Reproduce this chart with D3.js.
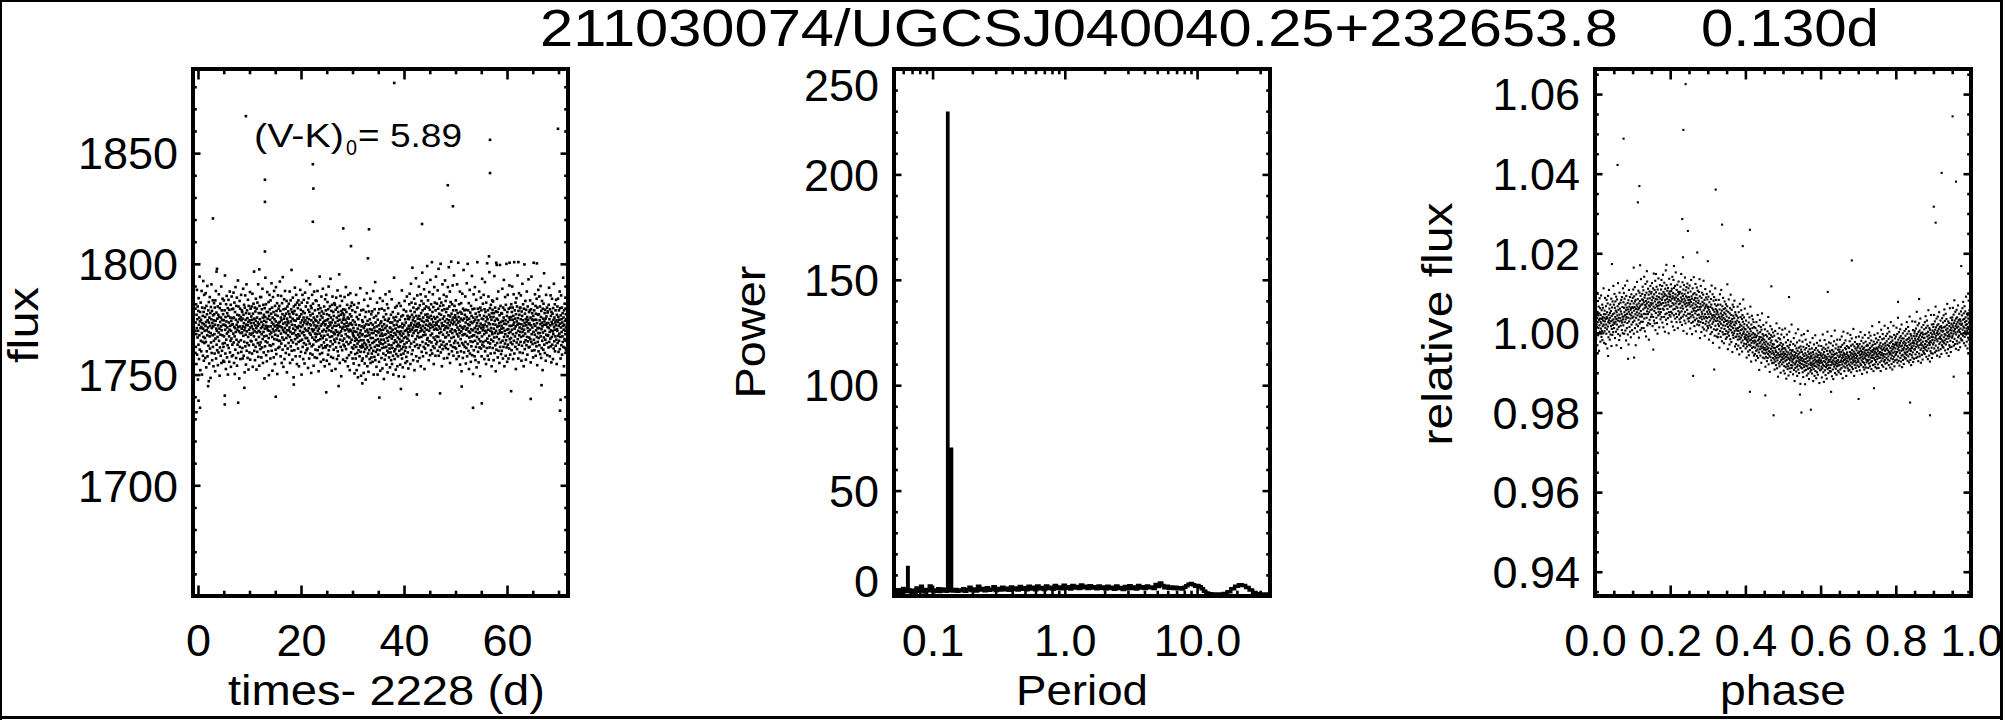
<!DOCTYPE html>
<html><head><meta charset="utf-8">
<script src="https://cdn.jsdelivr.net/npm/d3@7"></script>
<style>
body{margin:0;background:#fff;}
svg{display:block;}
text{font-family:"Liberation Sans",Arial,Helvetica,sans-serif;fill:#000;}
</style>
</head><body>
<script>
// ---------------- DATA ----------------
const titleText = "211030074/UGCSJ040040.25+232653.8";
const periodText = "0.130d";
const colourIndex = ["(V-K)", "0", "= 5.89"];

// Panel 1: light curve (uniform cadence), flux stored as code = (flux-1683)*4
const lcTimeStart = -0.45, lcCadence = 0.036;
const lcFluxCode = [
362,318,395,341,287,376,352,421,304,368,335,391,259,347,383,322,406,358,296,371,339,445,313,364,381,276,352,398,329,367,310,354,419,343,268,389,361,327,374,302,351,437,336,381,293,359,412,325,347,388,
334,372,298,356,415,327,363,281,392,348,310,377,339,428,301,366,353,247,384,320,345,399,362,288,371,337,408,315,356,379,262,343,390,326,368,431,307,352,383,294,361,339,402,318,375,355,283,366,329,397,
377,341,306,389,358,274,402,333,365,419,297,351,380,322,347,459,312,369,336,391,285,357,376,308,344,413,329,372,351,266,388,317,363,396,340,302,371,355,427,289,348,384,311,367,339,405,324,358,377,293,
318,366,402,337,291,358,384,325,447,349,306,372,356,278,395,331,364,410,342,299,379,353,321,388,268,345,374,403,316,362,337,291,385,349,418,308,356,371,329,394,282,347,365,333,409,301,358,386,322,370,
359,303,387,342,416,326,371,289,354,398,337,269,381,352,313,426,345,367,298,392,331,358,407,284,376,349,322,363,438,307,354,391,327,346,375,261,368,401,318,355,387,296,343,372,330,412,309,366,351,384,
344,381,316,369,297,355,423,338,376,302,361,394,327,348,272,389,353,411,319,367,340,286,379,358,431,311,346,384,325,370,298,357,403,336,363,277,392,321,349,378,308,366,342,417,295,353,387,329,361,340,
373,328,391,355,306,367,414,343,282,378,350,322,396,361,337,454,311,369,346,389,294,357,382,318,365,405,331,352,277,387,344,371,309,398,356,325,362,431,300,347,379,336,359,284,392,321,368,345,408,314,
326,379,352,408,299,363,341,386,317,354,423,332,371,289,358,394,345,308,376,337,365,261,388,351,319,372,443,328,356,395,303,363,338,381,292,352,417,326,369,348,381,310,355,399,334,267,374,347,412,321,
386,341,367,297,402,355,320,378,344,433,311,362,389,336,275,371,350,408,323,359,381,299,346,419,332,368,355,287,392,340,376,313,364,426,348,305,383,357,331,397,269,352,374,338,411,316,361,387,329,356,
347,392,318,363,436,329,355,383,301,371,342,410,324,366,289,353,397,335,377,313,444,348,360,282,386,331,369,404,345,296,374,352,419,320,362,387,307,343,378,334,401,357,272,369,348,391,315,364,339,382,
361,325,396,348,304,377,353,418,336,289,372,345,402,319,364,386,330,457,311,358,381,342,295,369,407,326,351,378,263,391,343,366,312,383,357,425,332,348,394,301,365,339,412,323,376,354,287,398,335,369,
352,388,315,341,402,327,369,283,356,394,338,373,301,347,421,329,362,385,309,354,377,268,398,343,331,366,412,318,357,382,296,345,371,403,325,362,339,288,379,351,416,307,366,334,391,322,348,437,312,359,
371,334,398,315,362,347,280,385,329,406,352,368,297,381,343,324,359,431,306,375,340,392,357,271,366,388,319,350,412,335,304,378,346,396,322,362,284,371,349,418,331,357,299,384,342,367,313,402,336,353,
328,365,401,341,298,373,356,419,312,347,386,330,362,274,393,351,318,379,342,445,305,367,332,388,356,291,374,338,409,321,359,382,307,346,371,334,423,316,362,295,378,349,326,391,338,365,283,357,404,319,
359,317,384,346,412,331,366,293,377,352,321,399,340,368,304,386,355,427,312,348,375,287,362,336,391,319,357,441,328,371,300,346,383,362,275,394,337,352,409,323,367,298,381,344,313,374,356,331,397,342,
341,394,327,362,278,385,348,317,407,356,333,371,296,389,345,420,310,365,339,381,302,358,374,325,449,343,367,289,392,331,354,410,318,376,346,265,383,338,362,401,312,351,379,329,367,295,386,354,322,371,
376,333,359,408,319,348,385,292,367,341,426,314,355,381,327,362,298,394,350,337,371,283,356,412,323,369,346,303,388,335,359,276,377,349,415,326,361,392,308,347,373,331,398,317,358,384,297,343,366,339,
315,352,288,337,394,321,346,270,363,329,305,381,334,297,358,412,318,345,276,372,331,307,389,324,351,263,340,368,312,397,328,285,357,336,301,376,343,319,424,309,348,330,266,384,317,355,339,293,366,322,
341,297,363,318,385,330,271,352,309,403,325,356,288,337,372,314,346,259,381,322,359,301,338,415,317,349,283,365,330,392,306,344,273,358,327,382,312,339,296,368,321,350,405,289,334,361,316,377,299,343,
306,349,382,325,291,358,334,419,311,343,268,371,327,353,300,386,318,347,435,294,362,330,309,374,339,282,355,321,398,313,346,268,367,332,304,379,344,320,357,291,386,327,350,312,406,338,275,361,324,348,
331,364,298,342,387,316,355,279,338,401,323,349,306,372,331,260,359,317,384,340,295,367,326,352,413,303,341,377,318,286,356,334,395,311,347,272,365,329,388,308,344,322,369,299,336,418,315,353,281,362,
352,308,339,376,294,345,321,404,333,287,362,316,349,381,302,337,268,371,325,357,443,310,343,296,366,330,389,314,351,277,340,372,305,327,358,392,319,346,283,364,335,301,378,322,354,265,345,397,311,332,
319,367,341,286,355,327,392,304,346,373,314,338,420,297,360,329,353,281,375,318,342,306,385,334,264,357,323,401,347,311,368,289,336,362,317,382,300,348,326,409,292,351,333,374,308,344,369,279,339,356,
368,329,395,351,414,318,372,346,287,383,357,432,324,361,398,305,349,376,338,461,312,366,353,294,389,343,371,327,405,358,276,381,347,319,364,396,332,355,442,301,374,348,386,322,359,411,337,292,369,354,
343,388,316,361,427,335,374,298,357,393,321,368,346,413,283,352,379,336,401,309,365,348,452,327,384,356,301,371,339,396,318,363,422,345,278,387,352,315,376,340,409,324,358,391,307,366,349,434,331,372,
377,334,365,402,321,356,389,294,371,347,417,328,360,385,303,352,439,339,374,312,395,358,326,368,471,342,306,381,354,413,319,363,390,335,287,372,349,426,316,357,398,331,369,302,384,351,445,323,362,337,
358,396,327,372,349,420,311,364,387,336,459,302,355,378,343,405,318,367,392,329,351,468,308,376,345,398,322,361,283,384,356,431,314,369,340,393,327,357,412,297,373,349,386,320,364,438,335,352,401,316,
336,381,355,409,323,368,344,298,387,361,426,314,352,375,339,462,305,366,391,328,357,418,289,373,346,399,321,362,472,334,378,350,310,395,343,367,429,318,359,384,302,371,336,447,325,363,392,348,317,375,
329,371,346,402,315,358,384,296,367,341,431,308,353,379,325,362,470,337,372,301,349,395,320,364,343,418,286,356,381,332,369,310,397,346,274,378,353,325,414,339,366,298,387,351,322,457,341,369,308,384,
355,318,376,341,409,327,362,288,385,349,316,372,433,338,301,367,352,468,323,359,384,311,346,397,278,369,335,357,421,306,344,380,328,363,291,392,350,319,374,337,446,303,361,386,327,348,269,371,339,413,
312,364,339,387,301,352,426,329,367,294,378,345,318,403,356,281,372,336,361,471,324,350,387,309,343,366,290,381,332,418,355,317,375,344,265,389,328,360,407,315,352,384,301,369,337,441,322,357,348,396,
368,327,353,412,319,374,341,296,386,358,435,310,347,381,329,364,287,398,344,372,316,355,469,333,368,302,384,349,326,409,361,295,376,338,453,317,359,388,324,347,372,306,394,352,331,367,283,379,345,402,
341,385,316,359,400,328,372,294,351,379,335,446,307,365,343,389,321,358,274,382,347,470,313,369,336,405,325,354,381,299,367,342,418,311,356,387,332,361,289,375,348,466,318,344,392,326,363,305,379,351,
356,311,378,344,423,329,365,297,389,352,318,371,439,336,360,283,385,347,324,408,341,366,302,394,330,359,468,317,374,349,291,381,337,412,322,363,350,297,387,343,371,315,429,356,332,367,304,389,345,326,
372,334,395,356,312,381,349,427,323,367,389,341,296,374,358,413,329,362,471,306,351,384,337,369,318,398,355,278,377,343,406,326,364,391,314,358,447,332,370,347,297,383,360,322,415,339,376,353,308,388,
345,389,327,368,411,336,359,293,382,351,320,374,432,345,307,366,395,338,356,283,387,349,326,467,361,314,378,342,401,330,368,295,385,357,321,363,418,336,372,304,352,391,328,367,346,440,317,359,381,335,
361,318,384,349,402,332,371,290,357,386,327,445,341,368,311,379,353,323,396,366,299,374,345,470,331,359,384,312,367,340,413,325,356,392,302,378,348,367,319,405,336,361,285,389,352,327,376,343,421,310,
334,377,352,409,321,366,343,391,305,359,428,337,372,298,383,350,316,362,401,329,355,276,387,344,369,313,396,358,335,451,322,364,379,307,347,385,331,369,293,358,412,340,373,325,361,389,303,354,380,338,
382,339,361,317,394,352,425,327,368,345,301,386,357,333,411,319,374,348,290,381,363,336,405,322,359,378,346,296,388,341,367,315,432,354,328,371,349,395,310,362,337,384,320,357,403,331,366,287,376,350,
347,391,325,363,405,338,372,309,356,384,329,367,342,418,314,360,388,336,297,375,353,411,321,368,345,389,304,362,337,379,327,356,443,318,371,349,283,384,358,332,396,316,365,341,407,329,377,353,312,368
];
// isolated points [time-2228, flux]
const lcOutliers = [[38.1,1881.7],[9.3,1866.7],[69.9,1861],[56.7,1856],[22.3,1845],[13.0,1838],[22.4,1834],[48.5,1835.5],[56.7,1841],[13.0,1828],[49.5,1826],[2.9,1820.5],[22.3,1819],[43.5,1818],[28.2,1816],[33.2,1815.6],[29.7,1808],[13.0,1805.6],[33.0,1802.5],[56.5,1803.4],[60.5,1800.5],[62.2,1800.8],[65.8,1800.2],[58.0,1799.5],[44.5,1799],[11.9,1797.5],[3.6,1796.5],[0.4,1735],[-0.3,1733],[5.2,1740.5],[5.2,1736.5],[7.8,1737.3],[15.1,1740],[35.2,1739.6],[42.5,1741],[53.4,1735],[55.1,1737],[64.6,1739],[70.3,1733.7],[70.4,1738.6],[0.1,1738.2],[47.0,1741.5],[24.9,1742],[60.8,1742.5],[9.0,1744],[18.6,1745.5],[27.3,1744.8],[31.9,1746],[39.4,1743.5],[51.2,1744.6],[66.7,1745.2],[2.1,1747]];
const lcXTicks = [0, 20, 40, 60];
const lcYTicks = [1700, 1750, 1800, 1850];

// Panel 2: periodogram [period (d), power]
const pgPoints = [[0.0513,1.5],[0.0525,2.5],[0.0538,1.8],[0.0550,3.0],[0.0562,2.2],[0.0575,1.6],[0.0588,2.8],[0.0600,3.5],[0.0612,2.0],[0.0625,2.6],[0.0638,3.2],[0.0646,2.4],[0.0651,13.5],[0.0656,2.1],[0.0665,3.0],[0.0680,2.3],[0.0695,1.8],[0.0710,2.7],[0.0725,2.0],[0.0740,1.5],[0.0760,3.8],[0.0780,2.2],[0.0800,2.9],[0.0825,4.6],[0.0850,2.4],[0.0875,1.9],[0.0900,3.1],[0.0930,2.5],[0.0960,4.8],[0.0990,2.6],[0.1020,2.0],[0.1050,2.9],[0.1080,2.3],[0.1110,3.4],[0.1140,2.1],[0.1170,2.7],[0.1200,3.3],[0.1230,2.4],[0.1260,2.8],[0.1285,2.2],[0.1298,3.0],[0.1303,229],[0.1308,3.0],[0.1320,2.5],[0.1335,3.0],[0.1350,2.6],[0.1365,3.4],[0.1380,2.8],[0.1386,3.2],[0.1390,69.6],[0.1394,3.0],[0.1405,2.6],[0.1420,2.4],
[0.145,2.4],[0.150,3.1],[0.155,2.2],[0.160,2.9],[0.166,2.5],[0.172,3.4],[0.178,2.3],[0.185,3.0],[0.192,4.2],[0.199,2.6],[0.207,3.3],[0.215,2.4],[0.223,4.6],[0.232,2.8],[0.241,3.5],[0.250,2.5],[0.260,3.9],[0.270,2.7],[0.281,3.2],[0.292,4.4],[0.303,2.6],[0.315,3.6],[0.327,2.9],[0.340,4.1],[0.353,3.0],[0.367,3.7],[0.381,2.7],[0.396,4.3],[0.411,3.1],[0.427,3.8],[0.444,2.9],[0.461,4.5],[0.479,3.2],[0.498,3.9],[0.517,3.0],[0.537,4.6],[0.558,3.3],[0.580,4.1],[0.602,3.0],[0.626,4.7],[0.650,3.4],[0.675,4.0],[0.702,3.1],[0.729,4.8],[0.757,3.5],[0.787,4.2],[0.817,3.2],[0.849,5.0],[0.882,3.6],[0.916,4.3],[0.952,3.4],[0.989,5.1],[1.03,3.7],[1.07,4.4],[1.11,3.3],[1.15,5.0],[1.20,3.8],[1.24,4.5],[1.29,3.5],[1.34,5.2],[1.39,3.9],[1.45,4.6],[1.50,3.6],[1.56,4.9],[1.62,3.8],[1.69,4.4],[1.75,3.4],[1.82,4.8],[1.89,3.7],[1.96,4.3],[2.04,3.3],[2.12,4.6],[2.20,3.6],[2.29,4.2],[2.38,3.2],[2.47,4.7],[2.57,3.5],[2.67,4.0],[2.77,3.1],[2.88,4.5],[2.99,3.4],[3.11,4.9],[3.23,3.6],[3.36,4.3],[3.49,3.3],[3.62,5.0],[3.76,3.8],[3.91,4.4],[4.06,3.5],[4.22,4.8],[4.38,3.9],[4.55,4.3],[4.73,3.6],[4.91,5.4],[5.10,4.5],[5.30,6.2],[5.51,5.0],[5.72,3.9],[5.95,4.6],[6.18,3.7],[6.42,4.3],[6.67,3.5],[6.93,4.1],[7.20,3.4],[7.48,3.9],[7.77,3.3],[8.07,4.2],[8.38,4.9],[8.71,5.6],[9.05,5.9],[9.40,5.3],[9.77,4.6],[10.15,5.0],[10.55,4.4],[10.96,3.4],[11.4,2.2],[11.9,1.4],[12.5,1.1],[13.3,1.0],[14.2,1.0],[15.2,1.0],[16.3,1.2],[17.4,2.0],[18.6,3.4],[19.9,4.6],[21.2,5.3],[22.6,5.0],[24.0,4.0],[25.5,2.8],[27.1,1.7],[28.8,1.1],[30.6,0.9],[32.5,0.9],[34.5,1.0],[35.5,1.0]];
const pgXTicks = [0.1, 1, 10];
const pgYTicks = [0, 50, 100, 150, 200, 250];

// Panel 3: folded light curve sorted by phase; relative flux stored as code = (f-0.95)*10000
const phCode = [
559,498,541,573,507,532,486,548,521,601,515,538,469,553,527,580,494,544,512,566,533,455,549,519,587,503,536,562,478,528,545,511,594,524,490,557,535,505,571,482,540,517,563,531,499,612,521,547,475,538,
504,556,529,588,513,547,472,535,567,521,498,583,540,509,552,461,537,574,516,593,527,489,545,532,608,503,561,524,483,550,538,571,496,529,555,517,586,467,543,510,564,531,495,579,520,547,502,618,534,526,
571,512,549,598,523,563,487,540,579,528,556,503,591,535,469,552,521,584,544,509,567,531,625,497,558,538,515,573,482,546,601,529,561,493,537,576,518,554,462,583,531,548,507,590,526,565,541,499,612,534,
519,577,541,600,563,498,552,586,527,619,545,506,571,534,557,481,593,540,564,512,548,631,525,575,496,559,538,582,471,553,608,529,566,515,547,590,503,573,536,558,489,562,544,597,521,580,551,507,565,538,
588,527,563,609,541,574,498,556,592,531,565,615,512,579,547,583,469,560,538,597,521,571,552,628,503,566,544,585,517,559,606,533,574,488,562,549,601,524,580,541,567,507,593,555,635,528,571,546,512,584,
541,598,572,616,528,583,559,607,512,577,548,641,536,589,563,504,595,570,623,547,580,491,566,601,538,574,554,629,519,586,561,547,611,525,578,596,483,569,552,604,533,587,566,522,618,558,575,540,599,571,
603,546,582,625,559,591,517,574,612,540,588,566,649,531,597,555,608,524,579,563,631,507,585,550,602,571,538,616,592,525,567,584,498,609,561,576,544,637,553,590,569,514,599,578,547,620,560,586,534,574,
552,609,571,633,540,597,583,618,526,589,561,646,575,514,603,558,592,540,626,567,598,503,582,611,547,576,657,533,594,569,620,549,585,522,606,560,591,537,613,578,571,499,599,552,636,583,545,604,566,590,
596,541,580,622,553,605,567,528,611,586,549,641,575,592,516,600,559,633,571,544,613,588,507,583,560,618,536,597,574,652,548,589,566,527,608,579,540,621,563,594,512,585,603,555,629,572,546,598,581,534,
551,603,574,527,616,563,589,538,648,579,554,599,520,584,568,627,541,593,561,609,505,577,546,620,586,531,598,572,639,553,581,524,607,566,592,543,615,575,498,589,558,624,569,536,601,548,583,612,529,576,
590,537,572,619,548,583,511,566,604,541,578,633,525,592,553,586,497,569,545,612,561,528,597,574,539,640,556,583,517,600,563,532,588,549,623,571,504,579,555,596,536,614,566,521,587,545,606,558,575,530,
528,581,546,603,519,565,538,592,487,559,573,527,618,541,566,502,588,553,534,601,548,578,514,569,525,596,541,631,557,509,574,536,583,493,562,547,610,522,567,540,589,529,571,506,598,553,537,584,517,563,
566,512,547,591,526,558,483,540,577,519,553,604,531,565,497,548,585,514,571,536,619,502,544,562,523,597,539,475,558,528,581,545,509,590,534,553,493,572,541,612,518,560,530,583,507,547,568,491,556,537,
509,552,531,489,571,522,546,498,583,517,540,463,559,528,597,505,536,571,490,549,523,608,512,541,556,479,533,567,502,545,519,588,496,538,560,474,527,551,510,579,534,497,562,518,547,485,572,530,505,556,
541,489,522,567,498,531,459,515,553,502,526,584,493,538,509,471,549,519,562,484,530,596,507,524,545,477,516,558,501,535,452,528,571,494,512,543,487,565,521,499,537,581,505,519,466,552,528,490,546,511,
472,524,491,543,506,459,531,497,566,483,512,538,468,505,552,491,527,446,515,484,573,499,521,462,540,507,488,557,476,518,494,535,453,509,545,481,528,498,584,467,514,503,539,473,522,490,561,485,510,496,
509,461,488,531,472,495,438,482,519,466,503,548,477,491,453,514,486,526,444,498,470,539,481,457,510,492,566,468,504,483,428,521,475,496,543,462,487,512,451,534,479,500,465,527,489,443,515,474,496,481,
447,496,463,512,478,431,489,455,527,469,493,442,506,472,458,545,481,437,499,466,518,451,484,407,490,474,532,459,502,443,478,515,466,489,425,508,461,482,549,453,471,497,438,486,464,520,449,493,476,458,
483,436,462,509,448,471,415,457,495,440,478,526,451,466,429,491,459,504,437,473,447,540,462,421,485,454,498,443,469,402,487,452,517,439,476,460,494,431,481,448,509,466,424,490,455,472,437,501,463,450,
425,471,446,493,433,408,462,441,505,428,456,481,419,452,437,524,444,465,411,478,431,498,449,390,467,438,487,423,459,445,512,416,470,441,484,427,453,400,475,446,432,496,458,421,466,439,508,447,434,461,
471,426,452,405,443,489,417,436,462,398,447,511,429,458,414,476,440,385,453,432,496,421,445,467,409,438,482,416,451,393,463,435,424,503,446,411,470,431,457,402,440,478,419,449,436,521,412,455,428,444,
418,457,433,396,472,425,441,487,407,436,452,379,444,421,468,412,438,499,426,449,403,461,430,415,476,392,442,455,420,437,509,408,447,428,463,399,433,481,417,451,424,440,372,466,431,413,458,436,494,422,
452,411,437,478,401,429,446,389,465,420,433,497,414,442,405,458,427,371,449,418,483,435,407,462,424,444,393,471,416,438,429,505,410,453,398,440,421,467,384,447,431,459,412,436,476,403,425,450,419,441,
407,443,425,461,398,436,414,487,420,452,379,430,446,409,471,423,438,392,457,417,433,494,404,441,426,462,386,448,415,430,475,401,439,421,456,395,444,427,411,468,432,418,452,374,437,424,481,406,445,429,
449,408,431,467,415,442,388,425,458,411,437,496,420,446,401,463,429,377,452,417,438,482,406,443,427,460,394,433,414,471,422,440,385,455,418,436,503,409,447,426,463,399,432,419,476,412,441,428,455,404,
412,451,433,474,403,438,419,492,427,446,391,457,424,440,408,468,431,384,453,421,445,479,415,436,428,506,399,447,420,461,410,437,425,471,395,449,430,416,483,423,443,405,458,432,418,465,401,439,426,452,
458,419,441,483,408,446,427,397,465,431,452,412,491,437,421,470,444,386,456,428,439,503,416,449,432,474,404,445,423,462,434,413,481,440,425,459,392,447,430,467,418,451,436,499,411,443,428,464,405,438,
421,462,440,407,479,433,452,418,495,444,426,468,401,449,435,486,414,457,439,423,471,409,446,431,510,427,453,441,392,466,436,419,477,448,430,461,412,445,489,425,437,456,404,472,442,418,463,433,450,428,
467,428,449,491,415,453,436,472,406,444,461,423,502,438,455,419,480,447,431,466,397,452,441,488,427,459,435,414,474,446,425,463,408,451,437,495,420,456,442,478,413,448,433,467,426,457,401,444,470,432,
429,468,451,412,487,440,458,423,501,445,433,474,416,462,449,493,426,455,438,481,409,466,443,429,517,452,437,470,419,457,444,404,478,436,461,448,495,421,453,432,472,414,459,440,486,427,450,463,411,445,
476,434,460,499,421,455,441,482,412,464,448,527,437,469,426,490,452,438,475,404,461,445,508,430,466,450,419,484,457,436,497,443,471,415,459,447,486,428,463,440,518,432,455,474,423,468,446,492,410,458,
437,479,461,425,498,448,470,433,512,456,441,485,419,467,452,503,430,474,446,491,413,462,449,527,436,477,455,422,489,443,466,408,481,459,434,472,450,518,427,464,440,495,416,470,453,486,431,461,444,476,
491,447,472,513,433,468,452,497,425,476,459,538,441,483,464,430,502,456,470,418,488,449,475,509,437,466,492,428,480,455,521,443,468,414,486,460,445,499,432,474,457,486,422,463,478,440,505,451,469,436,
448,493,474,436,510,459,482,445,527,467,452,498,430,485,463,515,441,477,456,504,426,488,470,541,447,481,460,432,497,473,455,419,493,466,444,486,462,529,438,475,451,507,427,480,468,492,435,474,458,499,
505,459,486,528,446,481,465,511,437,492,472,553,452,497,477,440,519,468,484,429,502,463,489,524,448,480,506,441,494,470,536,457,483,425,499,474,461,514,445,490,469,501,433,478,496,454,520,466,487,450,
462,509,488,447,527,472,497,458,542,480,465,513,440,499,478,531,455,491,469,518,434,503,484,557,461,494,475,443,512,487,470,428,508,479,454,500,476,545,449,490,463,521,437,496,482,506,448,489,471,515,
522,475,502,545,461,497,481,529,451,508,488,566,468,514,493,455,536,484,500,443,519,479,505,541,463,496,522,456,510,486,552,472,499,440,515,490,476,531,459,506,485,517,447,494,512,469,537,481,503,465,
478,526,505,463,544,489,514,474,559,497,481,530,456,516,494,548,471,508,485,535,449,520,501,573,477,511,492,459,529,503,486,442,525,496,469,517,491,562,464,507,480,538,452,513,499,523,465,506,488,532,
539,492,519,563,477,514,498,546,468,525,505,582,485,531,510,472,553,501,517,460,536,496,522,558,480,513,539,473,527,503,569,489,516,457,532,507,493,548,476,523,502,534,464,511,529,486,554,498,520,482,
497,544,523,481,562,508,533,493,578,516,500,549,474,535,513,567,490,527,504,554,468,539,520,591,496,530,511,478,548,522,505,461,544,515,488,536,510,581,483,526,499,557,471,532,518,541,484,525,507,551
];
// isolated points [phase, relative flux]
const phOutliers = [[0.241,1.0625],[0.951,1.0544],[0.235,1.0510],[0.076,1.0488],[0.060,1.0422],[0.922,1.0402],[0.960,1.0380],[0.118,1.0369],[0.321,1.0360],[0.114,1.0328],[0.901,1.0317],[0.232,1.0286],[0.906,1.0277],[0.338,1.0272],[0.247,1.0256],[0.412,1.0259],[0.393,1.0218],[0.272,1.0202],[0.683,1.0182],[0.974,1.0168],[0.619,1.0103],[0.469,1.0117],[0.516,1.0090],[0.261,0.9892],[0.412,0.9852],[0.475,0.9793],[0.549,0.9800],[0.891,0.9793],[0.574,0.9807],[0.453,0.9843],[0.838,0.9825],[0.701,0.9834],[0.954,0.9890],[0.317,0.9908],[0.045,1.0173],[0.103,1.0164],[0.120,1.0170],[0.190,1.0171],[0.210,1.0168],[0.234,1.0190],[0.300,1.0180],[0.088,0.9935],[0.104,0.9938],[0.138,1.0155],[0.162,1.0148],[0.278,1.0135],[0.352,1.0122],[0.545,0.9845],[0.628,0.9852],[0.742,0.9861],[0.806,1.0078],[0.862,1.0085],[0.035,0.9942],[0.155,0.9958]];
const phXTicks = [0, 0.2, 0.4, 0.6, 0.8, 1.0];
const phYTicks = [0.94, 0.96, 0.98, 1.00, 1.02, 1.04, 1.06];

// ---------------- DRAWING ----------------
const W = 2005, H = 720;
const TOP = 69, BOT = 596;
const FONT = '"Liberation Sans", Arial, Helvetica, sans-serif';
const svg = d3.select("body").append("svg").attr("width", W).attr("height", H);
svg.append("rect").attr("width", W).attr("height", H).attr("fill", "#fff");
const defs = svg.append("defs");
defs.append("clipPath").attr("id", "page").append("rect").attr("x", 0).attr("y", 0).attr("width", 2000).attr("height", H);
const root = svg.append("g").attr("clip-path", "url(#page)");

const x1 = d3.scaleLinear([-0.97, 71.84], [193, 568]);
const y1 = d3.scaleLinear([1650, 1888], [BOT, TOP]);
const x2 = d3.scaleLog([0.0511, 35.6], [894, 1270]);
const y2 = d3.scaleLinear([0, 250], [BOT, TOP]);
const x3 = d3.scaleLinear([0, 1], [1595, 1971]);
const y3 = d3.scaleLinear([0.9339, 1.0663], [BOT, TOP]);

function axes(x, y, o) {
  const g = root.append("g");
  const [xa, xb] = x.range();
  const mk = (axis, tr, vals, len, fmt) => {
    const a = g.append("g").attr("transform", tr)
      .call(axis.tickValues(vals).tickSizeInner(-len).tickSizeOuter(0).tickPadding(0).tickFormat(fmt || (() => "")));
    a.attr("font-size", null).attr("font-family", null);
    a.select(".domain").remove();
    a.selectAll(".tick line").attr("stroke", "#000").attr("stroke-width", 2.6);
    return a;
  };
  const bx = mk(d3.axisBottom(x), `translate(0,${BOT})`, o.xMajor, 10.5, o.xFmt);
  bx.selectAll("text").attr("y", 60).attr("dy", null).attr("font-size", 45).attr("font-family", FONT).attr("fill", "#000");
  mk(d3.axisBottom(x), `translate(0,${BOT})`, o.xMinor, 5.3);
  mk(d3.axisTop(x), `translate(0,${TOP})`, o.xMajor, 10.5);
  mk(d3.axisTop(x), `translate(0,${TOP})`, o.xMinor, 5.3);
  const ly = mk(d3.axisLeft(y), `translate(${xa},0)`, o.yMajor, 7.5, o.yFmt);
  ly.selectAll("text").attr("x", -15).attr("dy", o.yDy || "0.35em").attr("font-size", 45).attr("font-family", FONT).attr("fill", "#000");
  mk(d3.axisLeft(y), `translate(${xa},0)`, o.yMinor, 3.8);
  mk(d3.axisRight(y), `translate(${xb},0)`, o.yMajor, 7.5);
  mk(d3.axisRight(y), `translate(${xb},0)`, o.yMinor, 3.8);
  g.append("rect").attr("x", xa).attr("y", TOP).attr("width", xb - xa).attr("height", BOT - TOP)
    .attr("fill", "none").attr("stroke", "#000").attr("stroke-width", 4);
}

function clipFor(id, x) {
  const [a, b] = x.range();
  defs.append("clipPath").attr("id", id).append("rect").attr("x", a).attr("y", TOP).attr("width", b - a).attr("height", BOT - TOP);
  return `url(#${id})`;
}

function dots(data, x, y, clip, size) {
  root.append("g").attr("clip-path", clip).selectAll("rect").data(data).join("rect")
    .attr("x", d => x(d[0]) - size / 2).attr("y", d => y(d[1]) - size / 2)
    .attr("width", size).attr("height", size).attr("fill", "#000");
}

// ----- Panel 1 -----
const lcPoints = lcFluxCode.map((c, i) => [lcTimeStart + i * lcCadence, 1683 + c / 4]).concat(lcOutliers);
dots(lcPoints, x1, y1, clipFor("c1", x1), 2.6);
axes(x1, y1, {
  xMajor: lcXTicks, xMinor: d3.range(0, 72, 5).filter(v => v % 20), xFmt: d3.format("d"),
  yMajor: lcYTicks, yMinor: d3.range(1650, 1890, 10).filter(v => v % 50), yFmt: d3.format("d")
});

// ----- Panel 2 -----
const pgMinor = [];
[0.01, 0.1, 1, 10].forEach(dec => { for (let k = 2; k <= 9; k++) { const v = k * dec; if (v > 0.0511 && v < 35.6) pgMinor.push(v); } });
root.append("path").datum(pgPoints).attr("clip-path", clipFor("c2", x2))
  .attr("d", d3.line().x(d => x2(d[0])).y(d => y2(d[1])).curve(d3.curveStep))
  .attr("fill", "none").attr("stroke", "#000").attr("stroke-width", 3.5).attr("stroke-linejoin", "miter");
axes(x2, y2, {
  xMajor: pgXTicks, xMinor: pgMinor, xFmt: d3.format(".1f"),
  yMajor: pgYTicks, yMinor: d3.range(0, 251, 10).filter(v => v % 50), yFmt: d3.format("d"),
  yDy: d => d === 250 ? "0.71em" : d === 0 ? "0em" : "0.35em"
});

// ----- Panel 3 -----
const phPoints = phCode.map((c, i) => [(i + 0.5) / phCode.length, 0.95 + c / 10000]).concat(phOutliers);
dots(phPoints, x3, y3, clipFor("c3", x3), 2.1);
axes(x3, y3, {
  xMajor: phXTicks, xMinor: d3.range(0, 1.0001, 0.05).filter(v => Math.abs(v * 5 - Math.round(v * 5)) > 1e-6), xFmt: d3.format(".1f"),
  yMajor: phYTicks, yMinor: d3.range(0.935, 1.066, 0.005).filter(v => Math.abs(v * 50 - Math.round(v * 50)) > 1e-6), yFmt: d3.format(".2f")
});

// ----- Texts -----
function txt(s, x, y, size, len) {
  const t = root.append("text").attr("x", x).attr("y", y).attr("font-size", size).attr("font-family", FONT).text(s);
  if (len) t.attr("textLength", len).attr("lengthAdjust", "spacingAndGlyphs");
  return t;
}
function vtxt(s, bx, cy, size, len) {
  root.append("text").attr("transform", `translate(${bx},${cy}) rotate(-90)`).attr("text-anchor", "middle")
    .attr("font-size", size).attr("font-family", FONT).attr("textLength", len).attr("lengthAdjust", "spacingAndGlyphs").text(s);
}
txt(titleText, 540, 46, 51, 1078);
txt(periodText, 1701, 46, 51, 178);

txt(colourIndex[0], 254, 147, 34, 90);
txt(colourIndex[1], 346, 155, 22, 11);
txt(colourIndex[2], 358, 147, 34, 104);

txt("times- 2228 (d)", 228, 705, 42, 317);
txt("Period", 1016, 705, 42, 132);
txt("phase", 1720, 705, 42, 126);
vtxt("flux", 38, 325, 42, 76);
vtxt("Power", 765, 332, 42, 133);
vtxt("relative flux", 1452, 324, 42, 243);

// ----- page border -----
const bd = svg.append("g").attr("stroke", "#000");
bd.append("line").attr("x1", 1).attr("x2", 1).attr("y1", 0).attr("y2", H).attr("stroke-width", 2);
bd.append("line").attr("x1", 0).attr("x2", 2003).attr("y1", 1).attr("y2", 1).attr("stroke-width", 2);
bd.append("line").attr("x1", 2001.5).attr("x2", 2001.5).attr("y1", 0).attr("y2", H).attr("stroke-width", 3);
bd.append("line").attr("x1", 0).attr("x2", 2003).attr("y1", 717.5).attr("y2", 717.5).attr("stroke-width", 3);
</script>
</body></html>
